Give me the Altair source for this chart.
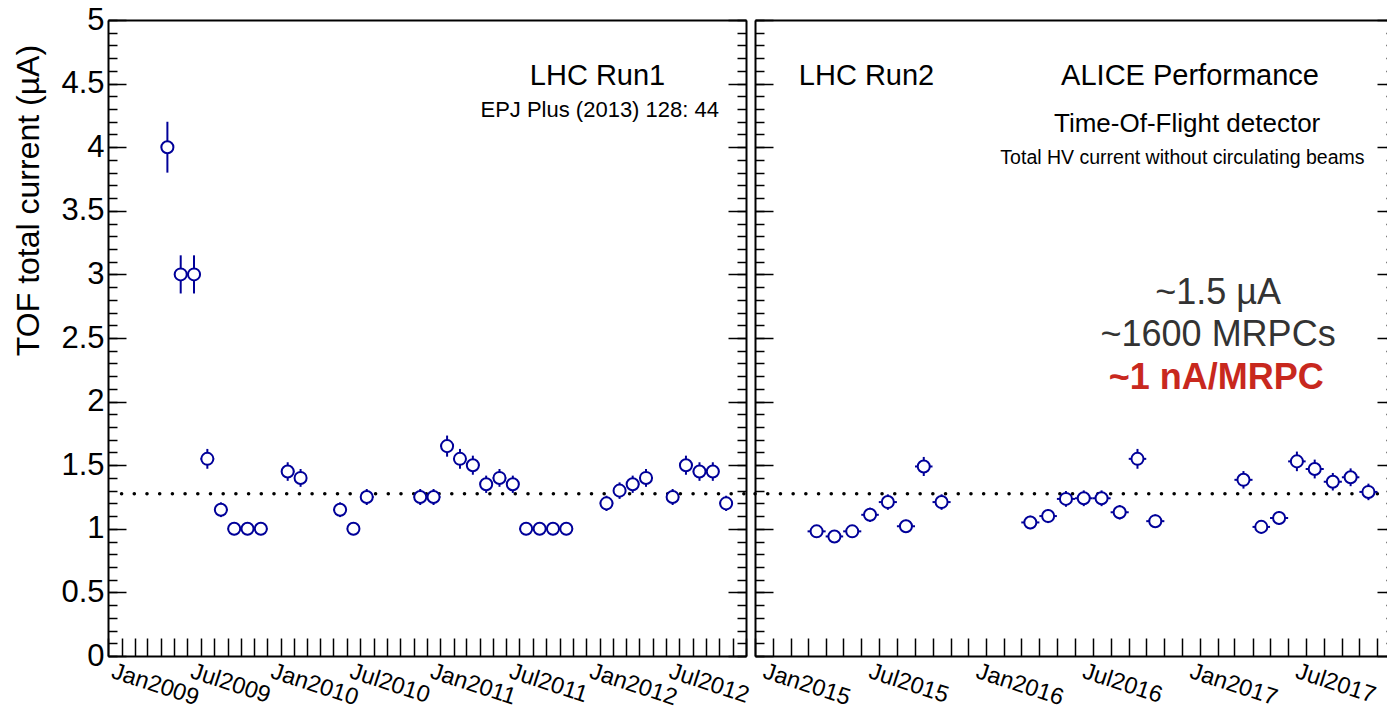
import altair as alt
import pandas as pd

# ---- Run 1: monthly average HV current, 2009-2012 ----
run1_month = ["2009-04", "2009-05", "2009-06", "2009-07", "2009-08", "2009-09", "2009-10", "2009-11",
              "2010-01", "2010-02", "2010-05", "2010-06", "2010-07",
              "2010-11", "2010-12", "2011-01", "2011-02", "2011-03", "2011-04", "2011-05", "2011-06",
              "2011-07", "2011-08", "2011-09", "2011-10",
              "2012-01", "2012-02", "2012-03", "2012-04", "2012-06", "2012-07", "2012-08", "2012-09", "2012-10"]
run1_current = [4.0, 3.0, 3.0, 1.55, 1.15, 1.0, 1.0, 1.0,
                1.45, 1.4, 1.15, 1.0, 1.25,
                1.25, 1.25, 1.65, 1.55, 1.5, 1.35, 1.4, 1.35,
                1.0, 1.0, 1.0, 1.0,
                1.2, 1.3, 1.35, 1.4, 1.25, 1.5, 1.45, 1.45, 1.2]
run1_error = [0.2, 0.15, 0.15, 0.078, 0.058, 0.05, 0.05, 0.05,
              0.073, 0.07, 0.058, 0.05, 0.063,
              0.063, 0.063, 0.083, 0.078, 0.075, 0.068, 0.07, 0.068,
              0.05, 0.05, 0.05, 0.05,
              0.06, 0.065, 0.068, 0.07, 0.063, 0.075, 0.073, 0.073, 0.06]

# ---- Run 2: monthly average HV current, 2015-2017 ----
run2_month = ["2015-03", "2015-04", "2015-05", "2015-06", "2015-07", "2015-08", "2015-09", "2015-10",
              "2016-03", "2016-04", "2016-05", "2016-06", "2016-07", "2016-08", "2016-09", "2016-10",
              "2017-03", "2017-04", "2017-05", "2017-06", "2017-07", "2017-08", "2017-09", "2017-10"]
run2_current = [0.98, 0.94, 0.98, 1.11, 1.21, 1.02, 1.49, 1.21,
                1.05, 1.10, 1.235, 1.24, 1.24, 1.13, 1.55, 1.06,
                1.385, 1.015, 1.085, 1.53, 1.47, 1.37, 1.405, 1.29]
run2_error = [0.049, 0.047, 0.049, 0.056, 0.061, 0.051, 0.075, 0.061,
              0.053, 0.055, 0.062, 0.062, 0.062, 0.057, 0.078, 0.053,
              0.069, 0.051, 0.054, 0.077, 0.074, 0.069, 0.07, 0.065]

# average level drawn as a dotted reference line
reference_level = 1.275

y_major_ticks = [i * 0.5 for i in range(11)]
y_minor_ticks = [round(i * 0.1, 1) for i in range(51)]

FONT = "Liberation Sans"
NAVY = "#000099"
W, H = 1279, 636
RUN1_PX = [0, 638]
RUN2_PX = [647, 1287]
MAJOR, MINOR = 18, 9


def iso(ts):
    return ts.strftime("%Y-%m-%dT%H:%M:%SZ")


def monthly_frame(months, current, error):
    start = pd.to_datetime([m + "-01" for m in months])
    end = start + pd.offsets.MonthBegin(1)
    mid = start + (end - start) / 2
    return pd.DataFrame({
        "start": iso(start), "end": iso(end), "mid": iso(mid),
        "current": current,
        "lo": [c - e for c, e in zip(current, error)],
        "hi": [c + e for c, e in zip(current, error)],
    })


run1 = monthly_frame(run1_month, run1_current, run1_error)
run2 = monthly_frame(run2_month, run2_current, run2_error)


def utc(y, m, d=1):
    return alt.DateTime(year=y, month=m, date=d, utc=True)


run1_x = alt.Scale(type="utc", domain=[utc(2008, 12), utc(2012, 12)], range=RUN1_PX, nice=False)
run2_x = alt.Scale(type="utc", domain=[utc(2014, 12), utc(2017, 12)], range=RUN2_PX, nice=False)
y_scale = alt.Scale(domain=[0, 5], nice=False, zero=False)

MONTHLY = {"interval": "month", "step": 1}


def x_label_axis():
    return alt.Axis(orient="bottom", tickCount=MONTHLY, ticks=False, tickSize=0,
                    domain=True, domainColor="black", domainWidth=2,
                    labelExpr="utcmonth(datum.value) % 6 == 0 ? utcFormat(datum.value, '%b%Y') : ''",
                    labelAngle=18, labelAlign="left", labelBaseline="top", labelOffset=-6,
                    labelPadding=3, labelFontSize=23.5, labelFont=FONT, labelColor="black",
                    labelOverlap=False, labelFlush=False, labelBound=False, title=None, grid=False)


def x_tick_axis():
    return alt.Axis(orient="bottom", tickCount=MONTHLY, ticks=True, tickSize=MAJOR,
                    tickWidth=1.5, tickColor="black", domain=False, labels=False,
                    offset=-MAJOR, title=None, grid=False)


def x_top_axis():
    return alt.Axis(orient="top", ticks=False, labels=False, domain=True,
                    domainColor="black", domainWidth=2, title=None, grid=False)


def y_border(orient, at):
    # plain frame line at pixel `at` of the plot area
    off = -at if orient == "left" else at - W
    return alt.Axis(orient=orient, ticks=False, labels=False, domain=True,
                    domainColor="black", domainWidth=2, offset=off, title=None, grid=False)


def y_ticks(orient, border, size, values):
    # ticks drawn inward from a frame line at pixel `border`
    if orient == "left":
        off = -(border + size)
    else:
        off = (border - size) - W
    return alt.Axis(orient=orient, values=values, ticks=True, tickSize=size, tickWidth=1.5,
                    tickColor="black", domain=False, labels=False, offset=off,
                    title=None, grid=False)


y_label_axis = alt.Axis(orient="left", values=y_major_ticks, labelExpr="'' + datum.value",
                        ticks=False, tickSize=0, domain=True, domainColor="black", domainWidth=2,
                        labelPadding=4, labelFontSize=31, labelFont=FONT, labelColor="black",
                        labelFlush=False, labelOverlap=False,
                        title="TOF total current (µA)", titleFont=FONT, titleFontSize=32,
                        titleFontWeight="normal", titleColor="black", titleAngle=270,
                        titleAlign="center", titleBaseline="alphabetic", titleX=-70, titleY=180,
                        grid=False)


def frame_layer(df, xscale, xaxis, yaxis):
    return alt.Chart(df).mark_point(opacity=0).encode(
        x=alt.X("mid:T", scale=xscale, axis=xaxis),
        y=alt.Y("current:Q", scale=y_scale, axis=yaxis),
    )


def data_layers(df, xscale):
    v_err = alt.Chart(df).mark_rule(color=NAVY, strokeWidth=2).encode(
        x=alt.X("mid:T", scale=xscale, axis=None),
        y=alt.Y("lo:Q", scale=y_scale, axis=None), y2="hi:Q")
    h_err = alt.Chart(df).mark_rule(color=NAVY, strokeWidth=2).encode(
        x=alt.X("start:T", scale=xscale, axis=None), x2="end:T",
        y=alt.Y("current:Q", scale=y_scale, axis=None))
    pts = alt.Chart(df).mark_point(shape="circle", size=145, filled=True, fill="white",
                                   stroke=NAVY, strokeWidth=2, opacity=1).encode(
        x=alt.X("mid:T", scale=xscale, axis=None),
        y=alt.Y("current:Q", scale=y_scale, axis=None))
    return [v_err, h_err, pts]


def dotted(start, end, xscale):
    df = pd.DataFrame({"start": [start], "end": [end], "level": [reference_level]})
    return alt.Chart(df).mark_rule(color="black", strokeWidth=3.5, strokeDash=[0.1, 12.6],
                                   strokeCap="round").encode(
        x=alt.X("start:T", scale=xscale, axis=None), x2="end:T",
        y=alt.Y("level:Q", scale=y_scale, axis=None))


def note(text, when, level, xscale, size, color="black", weight="normal"):
    df = pd.DataFrame({"label": [text], "when": [when], "level": [level]})
    return alt.Chart(df).mark_text(font=FONT, fontSize=size, color=color, fontWeight=weight,
                                   align="center", baseline="middle").encode(
        x=alt.X("when:T", scale=xscale, axis=None),
        y=alt.Y("level:Q", scale=y_scale, axis=None),
        text="label:N")


layers = [
    dotted("2009-01-01T00:00:00Z", "2012-12-01T00:00:00Z", run1_x),
    dotted("2014-12-01T00:00:00Z", "2017-11-01T00:00:00Z", run2_x),
]
layers += data_layers(run1, run1_x)
layers += data_layers(run2, run2_x)

layers += [
    note("LHC Run1", "2011-12-27T00:00:00Z", 4.56, run1_x, 29),
    note("EPJ Plus (2013) 128: 44", "2012-01-01T00:00:00Z", 4.29, run1_x, 22),
    note("LHC Run2", "2015-06-10T00:00:00Z", 4.56, run2_x, 29),
    note("ALICE Performance", "2016-12-15T00:00:00Z", 4.56, run2_x, 29),
    note("Time-Of-Flight detector", "2016-12-10T00:00:00Z", 4.18, run2_x, 26),
    note("Total HV current without circulating beams", "2016-12-02T00:00:00Z", 3.915, run2_x, 19.5),
    note("~1.5 µA", "2017-02-01T00:00:00Z", 2.854, run2_x, 36, color="#333333"),
    note("~1600 MRPCs", "2017-02-01T00:00:00Z", 2.524, run2_x, 36, color="#333333"),
    note("~1 nA/MRPC", "2017-01-29T00:00:00Z", 2.186, run2_x, 36, color="#c8281e", weight="bold"),
]

# frames, ticks and labels of the two panels
L0, L1 = RUN1_PX
R0, R1 = RUN2_PX
layers += [
    frame_layer(run1, run1_x, x_label_axis(), y_label_axis),
    frame_layer(run1, run1_x, x_tick_axis(), y_ticks("left", L0, MAJOR, y_major_ticks)),
    frame_layer(run1, run1_x, x_top_axis(), y_ticks("left", L0, MINOR, y_minor_ticks)),
    frame_layer(run1, run1_x, None, y_border("right", L1)),
    frame_layer(run1, run1_x, None, y_ticks("right", L1, MAJOR, y_major_ticks)),
    frame_layer(run1, run1_x, None, y_ticks("right", L1, MINOR, y_minor_ticks)),
    frame_layer(run2, run2_x, x_label_axis(), y_border("left", R0)),
    frame_layer(run2, run2_x, x_tick_axis(), y_ticks("left", R0, MAJOR, y_major_ticks)),
    frame_layer(run2, run2_x, x_top_axis(), y_ticks("left", R0, MINOR, y_minor_ticks)),
    frame_layer(run2, run2_x, None, y_border("right", R1)),
    frame_layer(run2, run2_x, None, y_ticks("right", R1, MAJOR, y_major_ticks)),
    frame_layer(run2, run2_x, None, y_ticks("right", R1, MINOR, y_minor_ticks)),
]

chart = alt.layer(*layers).resolve_scale(
    x="independent", y="shared"
).resolve_axis(
    x="independent", y="independent"
).properties(
    width=W, height=H,
    padding={"left": 108, "top": 20, "right": 0, "bottom": 53},
    autosize=alt.AutoSizeParams(type="none"),
    background="white",
).configure_view(stroke=None).configure_axis(grid=False)

chart.save("out.html", embed_options={"renderer": "svg", "actions": False})
